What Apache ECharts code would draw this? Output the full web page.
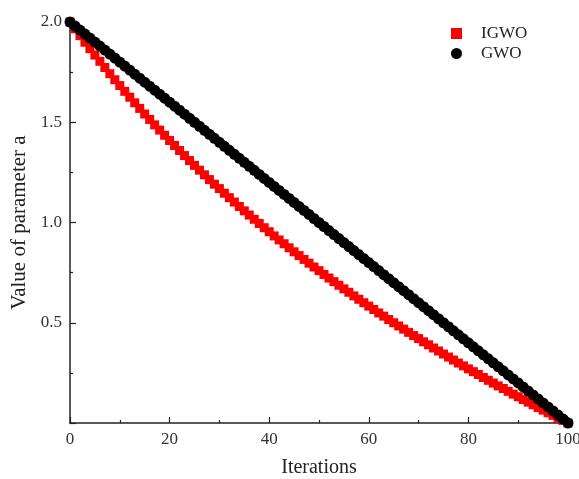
<!DOCTYPE html>
<html>
<head>
<meta charset="utf-8">
<script src="https://cdn.jsdelivr.net/npm/echarts@6/dist/echarts.min.js"></script>
<style>
  html, body { margin: 0; padding: 0; background: #fff; }
  #chart { width: 579px; height: 479px; }
</style>
</head>
<body>
<div id="chart"></div>
<script>
// Iteration index 0..100
const iterations = Array.from({ length: 101 }, (_, i) => i);

// Nonlinear (improved) control parameter a
const igwoValues = [
  2.000, 1.966, 1.932, 1.899, 1.867, 1.835, 1.804, 1.773, 1.742, 1.712,
  1.683, 1.654, 1.625, 1.597, 1.569, 1.541, 1.514, 1.487, 1.461, 1.435,
  1.409, 1.384, 1.359, 1.334, 1.309, 1.285, 1.261, 1.238, 1.214, 1.191,
  1.169, 1.146, 1.124, 1.102, 1.080, 1.058, 1.037, 1.016, 0.995, 0.974,
  0.954, 0.933, 0.913, 0.894, 0.874, 0.854, 0.835, 0.816, 0.797, 0.778,
  0.760, 0.741, 0.723, 0.705, 0.687, 0.669, 0.652, 0.634, 0.617, 0.600,
  0.583, 0.566, 0.549, 0.533, 0.516, 0.500, 0.484, 0.468, 0.452, 0.436,
  0.421, 0.405, 0.390, 0.374, 0.359, 0.344, 0.329, 0.314, 0.299, 0.285,
  0.270, 0.256, 0.242, 0.227, 0.213, 0.199, 0.185, 0.172, 0.158, 0.144,
  0.131, 0.117, 0.104, 0.091, 0.077, 0.064, 0.051, 0.038, 0.025, 0.013,
  0.000
];

// Standard (linear) control parameter a
const gwoValues = [
  2.00, 1.98, 1.96, 1.94, 1.92, 1.90, 1.88, 1.86, 1.84, 1.82,
  1.80, 1.78, 1.76, 1.74, 1.72, 1.70, 1.68, 1.66, 1.64, 1.62,
  1.60, 1.58, 1.56, 1.54, 1.52, 1.50, 1.48, 1.46, 1.44, 1.42,
  1.40, 1.38, 1.36, 1.34, 1.32, 1.30, 1.28, 1.26, 1.24, 1.22,
  1.20, 1.18, 1.16, 1.14, 1.12, 1.10, 1.08, 1.06, 1.04, 1.02,
  1.00, 0.98, 0.96, 0.94, 0.92, 0.90, 0.88, 0.86, 0.84, 0.82,
  0.80, 0.78, 0.76, 0.74, 0.72, 0.70, 0.68, 0.66, 0.64, 0.62,
  0.60, 0.58, 0.56, 0.54, 0.52, 0.50, 0.48, 0.46, 0.44, 0.42,
  0.40, 0.38, 0.36, 0.34, 0.32, 0.30, 0.28, 0.26, 0.24, 0.22,
  0.20, 0.18, 0.16, 0.14, 0.12, 0.10, 0.08, 0.06, 0.04, 0.02,
  0.00
];

const yTickLabels = ['0.5', '1.0', '1.5', '2.0'];

const serif = '"Liberation Serif", "DejaVu Serif", serif';
const axisColor = '#222';

const chart = echarts.init(document.getElementById('chart'), null, { renderer: 'canvas' });

chart.setOption({
  animation: false,
  backgroundColor: '#fff',
  grid: { left: 70, right: 11, top: 22, bottom: 56, outerBoundsMode: 'none', containLabel: false },
  legend: {
    orient: 'vertical',
    left: 446,
    top: 20,
    itemGap: 3,
    itemWidth: 11,
    itemHeight: 11,
    textStyle: { fontFamily: serif, fontSize: 17, color: '#222', padding: [0, 0, 0, 14] },
    data: [
      { name: 'IGWO', icon: 'rect', itemStyle: { color: '#ff0000', opacity: 1 } },
      { name: 'GWO', icon: 'circle', itemStyle: { color: '#000000', opacity: 1 } }
    ]
  },
  xAxis: {
    type: 'value',
    min: 0,
    max: 100,
    interval: 20,
    name: 'Iterations',
    nameLocation: 'middle',
    nameGap: 35,
    nameTextStyle: { fontFamily: serif, fontSize: 20, color: '#222' },
    axisLine: { show: true, lineStyle: { color: axisColor, width: 1.5 } },
    axisTick: { show: true, inside: true, length: 6, lineStyle: { color: axisColor, width: 1.2 } },
    minorTick: { show: true, splitNumber: 2, length: 3, lineStyle: { color: axisColor, width: 1.2 } },
    axisLabel: { fontFamily: serif, fontSize: 17, color: '#333', margin: 8 },
    splitLine: { show: false }
  },
  yAxis: {
    type: 'value',
    min: 0,
    max: 2,
    interval: 0.5,
    name: 'Value of parameter a',
    nameLocation: 'middle',
    nameGap: 38,
    nameTextStyle: { fontFamily: serif, fontSize: 21, color: '#222' },
    axisLine: { show: true, lineStyle: { color: axisColor, width: 1.5 } },
    axisTick: { show: true, inside: true, length: 6, lineStyle: { color: axisColor, width: 1.2 } },
    minorTick: { show: true, splitNumber: 2, length: 3, lineStyle: { color: axisColor, width: 1.2 } },
    axisLabel: {
      fontFamily: serif, fontSize: 17, color: '#333', margin: 8,
      formatter: function (v) {
        const s = v.toFixed(1);
        return yTickLabels.indexOf(s) >= 0 ? s : '';
      }
    },
    splitLine: { show: false }
  },
  series: [
    {
      name: 'IGWO',
      type: 'scatter',
      symbol: 'rect',
      symbolSize: 9,
      itemStyle: { color: '#ff0000', opacity: 1 },
      emphasis: { disabled: true },
      data: iterations.map((t, i) => [t, igwoValues[i]]),
      z: 2
    },
    {
      name: 'GWO',
      type: 'scatter',
      symbol: 'circle',
      symbolSize: 11,
      itemStyle: { color: '#000000', opacity: 1 },
      emphasis: { disabled: true },
      data: iterations.map((t, i) => [t, gwoValues[i]]),
      z: 3
    }
  ]
});
</script>
</body>
</html>
